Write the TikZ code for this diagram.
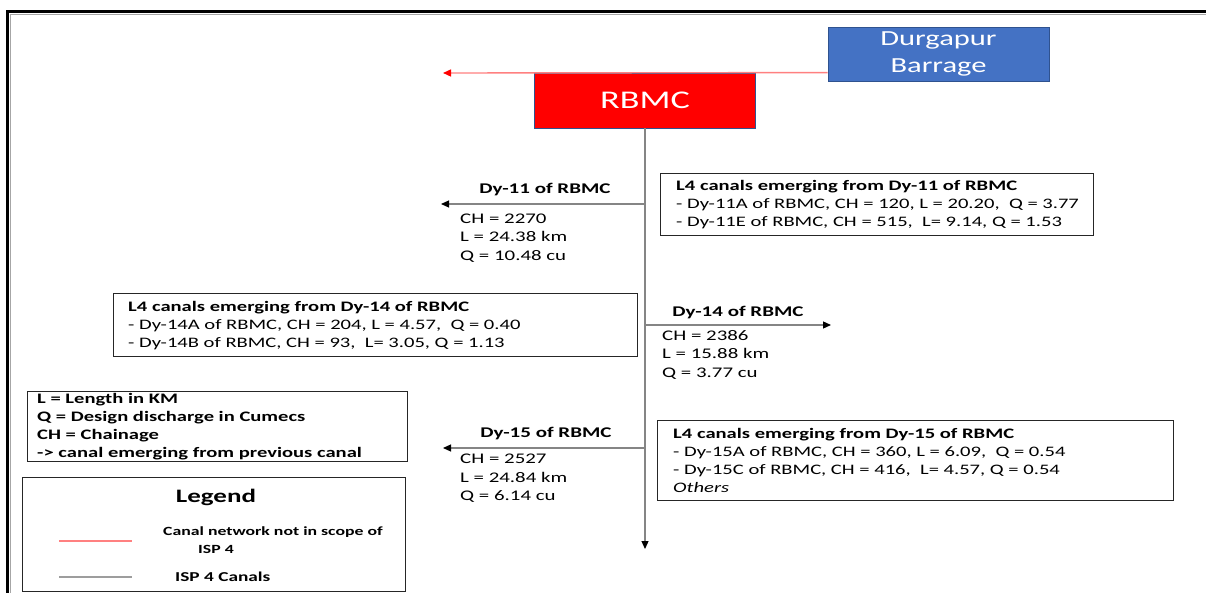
\documentclass[tikz,border=0pt]{standalone}
\usepackage{fontspec}
\setmainfont{Carlito}[FakeStretch=1.42]
\usetikzlibrary{arrows.meta}
\definecolor{dbblue}{HTML}{4472C4}
\definecolor{dbedge}{HTML}{2F528F}
\definecolor{canalgray}{HTML}{858585}
\definecolor{scopered}{HTML}{FF8080}
\begin{document}
\begin{tikzpicture}[x=1pt,y=-1pt,
  txtbody/.style={font=\fontsize{14.5}{18}\selectfont, align=left, inner sep=0pt, anchor=west},
  txtbold/.style={font=\fontsize{14.8}{18}\selectfont\bfseries, align=left, inner sep=0pt},
  vals/.style={font=\fontsize{14.7}{18.5}\selectfont, align=left, inner sep=0pt, anchor=west},
  infobox/.style={draw=black!85, line width=1.3pt, anchor=north west, inner sep=0pt},
  canal/.style={draw=canalgray, line width=1.2pt, -{Triangle[color=black,length=8pt,width=7pt]}},
  outscope/.style={draw=scopered, line width=1.4pt, -{Triangle[color=red,length=8pt,width=7pt]}},
  topbox/.style={draw=dbedge, line width=0.8pt, text=white, minimum width=221pt, inner sep=0pt},
  legtext/.style={font=\fontsize{12.5}{19}\selectfont\bfseries, inner sep=0pt, anchor=west},
]
\useasboundingbox (0,0) rectangle (1206,593);
% outer frame
\draw[black!35, line width=1pt] (10.5,593) -- (10.5,14.5) -- (1206,14.5);
\draw[black, line width=2.6pt] (7.5,593) -- (7.5,11.5) -- (1206,11.5);

% top boxes
\node[topbox, fill=dbblue, minimum height=54pt, font=\fontsize{21.5}{27}\selectfont, align=center] (db) at (938.5,54) {Durgapur\\Barrage};
\node[topbox, fill=red, minimum height=55pt, font=\fontsize{25.5}{30}\selectfont] (rb) at (645,100.5) {RBMC};

% out-of-scope red canal
\coordinate (redend) at (443,73);
\draw[outscope] (db.west |- rb.north) -- (redend);

% main ISP 4 canal
\coordinate (vend) at (645,549);
\draw[canal] (rb.south) -- (vend);

% branches
\coordinate (j11) at (645,204); \coordinate (e11) at (441,204);
\coordinate (j14) at (645,325); \coordinate (e14) at (831,325);
\coordinate (j15) at (645,448); \coordinate (e15) at (443,448);
\draw[canal] (j11) -- (e11);
\draw[canal] (j14) -- (e14);
\draw[canal] (j15) -- (e15);

% branch labels
\node[txtbold] (l11) at (545,190) {Dy-11 of RBMC};
\node[vals] (v11) at (460,238) {CH = 2270\\L = 24.38 km\\Q = 10.48 cu};
\node[txtbold] (l14) at (738,313) {Dy-14 of RBMC};
\node[vals] (v14) at (662,354.5) {CH = 2386\\L = 15.88 km\\Q = 3.77 cu};
\node[txtbold] (l15) at (546,434) {Dy-15 of RBMC};
\node[vals] (v15) at (460,478.5) {CH = 2527\\L = 24.84 km\\Q = 6.14 cu};

% L4 boxes
\node[infobox, minimum width=433pt, minimum height=62pt] (b11) at (660,173) {};
\node[txtbody] (t11) at ([xshift=16pt]b11.west) {\textbf{L4 canals emerging from Dy-11 of RBMC}\\- Dy-11A of RBMC, CH = 120, L = 20.20,\ \ Q = 3.77\\- Dy-11E of RBMC, CH = 515,\ \ L= 9.14, Q = 1.53};

\node[infobox, minimum width=524pt, minimum height=63pt] (b14) at (113,293) {};
\node[txtbody] (t14) at ([xshift=15pt]b14.west) {\textbf{L4 canals emerging from Dy-14 of RBMC}\\- Dy-14A of RBMC, CH = 204, L = 4.57,\ \ Q = 0.40\\- Dy-14B of RBMC, CH = 93,\ \ L= 3.05, Q = 1.13};

\node[infobox, minimum width=516pt, minimum height=80pt] (b15) at (657,420) {};
\node[txtbody] (t15) at ([xshift=16pt]b15.west) {\textbf{L4 canals emerging from Dy-15 of RBMC}\\- Dy-15A of RBMC, CH = 360, L = 6.09,\ \ Q = 0.54\\- Dy-15C of RBMC, CH = 416,\ \ L= 4.57, Q = 0.54\\\textit{Others}};

% abbreviations box
\node[infobox, minimum width=380pt, minimum height=70pt] (notes) at (27,391) {};
\node[txtbody, font=\fontsize{14.5}{17.8}\selectfont\bfseries] (tnotes) at ([xshift=10pt]notes.west) {L = Length in KM\\Q = Design discharge in Cumecs\\CH = Chainage\\-> canal emerging from previous canal};

% legend
\node[infobox, minimum width=383pt, minimum height=114pt] (legend) at (22,477) {};
\node[font=\fontsize{19}{22}\selectfont\bfseries, inner sep=0pt] (legtitle) at (216,497) {Legend};
\coordinate (ra) at (59,541); \coordinate (rz) at (132,541);
\draw[draw=scopered, line width=1.2pt] (ra) -- (rz);
\node[legtext] (legred) at (163,532) {Canal network not in scope of};
\node[legtext] (legred2) at (198,549) {ISP 4};
\coordinate (ga) at (59,577); \coordinate (gz) at (132,577);
\draw[draw=canalgray!80, line width=1.2pt] (ga) -- (gz);
\node[legtext, font=\fontsize{13.6}{19}\selectfont\bfseries] (leggray) at (175,577) {ISP 4 Canals};
\end{tikzpicture}
\end{document}
